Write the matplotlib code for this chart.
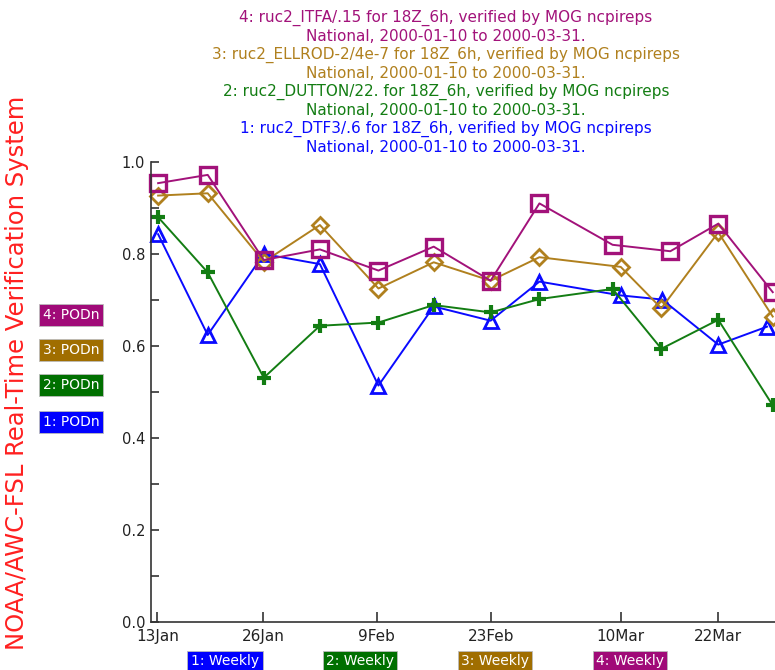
import matplotlib
matplotlib.use("Agg")
import matplotlib.pyplot as plt

# ---- data (x = days after 13 Jan 2000) ----
x_common = [0.1, 6.2, 13.1, 20.0, 27.2, 34.0, 41.0, 47.0]
x_itfa = x_common + [56.0, 63.1, 69.0, 75.7]
x_ellrod = x_common + [57.0, 62.0, 69.0, 75.7]
x_dutton = x_common + [56.0, 62.0, 69.0, 75.7]
x_dtf3 = x_common + [57.0, 62.1, 69.0, 75.0]

itfa = [0.954, 0.972, 0.787, 0.810, 0.764, 0.816, 0.742, 0.910, 0.820, 0.806, 0.866, 0.717]
ellrod = [0.927, 0.932, 0.783, 0.863, 0.725, 0.782, 0.742, 0.793, 0.772, 0.682, 0.847, 0.664]
dutton = [0.880, 0.760, 0.531, 0.644, 0.651, 0.689, 0.673, 0.702, 0.724, 0.594, 0.657, 0.471]
dtf3 = [0.843, 0.624, 0.800, 0.778, 0.514, 0.686, 0.655, 0.740, 0.710, 0.701, 0.603, 0.642]

xtick_pos = [0, 13, 27, 41, 57, 69]
xtick_labels = ["13Jan", "26Jan", "9Feb", "23Feb", "10Mar", "22Mar"]
ytick_major = [0.0, 0.2, 0.4, 0.6, 0.8, 1.0]
ytick_minor = [0.1, 0.3, 0.5, 0.7, 0.9]

titles = [
    ("4: ruc2_ITFA/.15 for 18Z_6h, verified by MOG ncpireps", "National, 2000-01-10 to 2000-03-31."),
    ("3: ruc2_ELLROD-2/4e-7 for 18Z_6h, verified by MOG ncpireps", "National, 2000-01-10 to 2000-03-31."),
    ("2: ruc2_DUTTON/22. for 18Z_6h, verified by MOG ncpireps", "National, 2000-01-10 to 2000-03-31."),
    ("1: ruc2_DTF3/.6 for 18Z_6h, verified by MOG ncpireps", "National, 2000-01-10 to 2000-03-31."),
]
pod_labels = ["4: PODn", "3: PODn", "2: PODn", "1: PODn"]
weekly_labels = ["1: Weekly", "2: Weekly", "3: Weekly", "4: Weekly"]

# ---- styles ----
C_PUR = "#A2127A"
C_GLD = "#B0801E"
C_GRN = "#137D13"
C_BLU = "#0A0AFF"
BOX = {"4": "#A00A78", "3": "#A06E00", "2": "#007000", "1": "#0000FF"}

W, H = 775, 670
fig = plt.figure(figsize=(W / 100, H / 100), dpi=100)
ax_left, ax_bottom, ax_right, ax_top = 150.7, 622, 775, 162
ax = fig.add_axes([ax_left / W, 1 - ax_bottom / H, (ax_right - ax_left) / W, (ax_bottom - ax_top) / H])
px_per_day = 8.13
x0 = 157.3
ax.set_xlim((ax_left - x0) / px_per_day, (ax_right - x0) / px_per_day)
ax.set_ylim(0, 1.0)

lw = 1.4
ax.plot(x_dtf3, dtf3, color=C_BLU, lw=lw, marker="^", ms=10, mfc="none", mew=2, clip_on=False)
ax.plot(x_dutton, dutton, color=C_GRN, lw=lw, clip_on=False)
ax.plot(x_dutton, dutton, ls="none", color=C_GRN, marker="+", ms=10, mew=3, clip_on=False)
ax.plot(x_ellrod, ellrod, color=C_GLD, lw=lw, marker="D", ms=8, mfc="none", mew=2, clip_on=False)
ax.plot(x_itfa, itfa, color=C_PUR, lw=lw, marker="s", ms=12, mfc="none", mew=2.4, clip_on=False)

for s in ["top", "right"]:
    ax.spines[s].set_visible(False)
for s in ["left", "bottom"]:
    ax.spines[s].set_color("#333333")
    ax.spines[s].set_linewidth(1.2)

ax.set_xticks(xtick_pos)
ax.set_xticklabels(xtick_labels, fontsize=11, color="#222222")
ax.set_yticks(ytick_major)
ax.set_yticklabels([f"{v:.1f}" for v in ytick_major], fontsize=10.5, color="#222222")
ax.set_yticks(ytick_minor, minor=True)
ax.tick_params(axis="y", which="both", direction="in", length=6, width=1.2, color="#333333", pad=4)
ax.tick_params(axis="x", which="major", direction="in", length=7, width=1.2, color="#333333", pad=5)

# titles
colors_t = [C_PUR, C_GLD, C_GRN, C_BLU]
y = 18
for (l1, l2), c in zip(titles, colors_t):
    fig.text(446 / W, 1 - y / H, l1, ha="center", va="center", fontsize=11, color=c)
    fig.text(446 / W, 1 - (y + 18.5) / H, l2, ha="center", va="center", fontsize=11, color=c)
    y += 37

# side title
fig.text(17 / W, 1 - 373 / H, "NOAA/AWC-FSL Real-Time Verification System", rotation=90,
         ha="center", va="center", fontsize=17.5, color="#FF2020")

# PODn boxes
pod_y = [315, 350, 385, 422]
for lab, yy in zip(pod_labels, pod_y):
    fig.text(71 / W, 1 - yy / H, lab, ha="center", va="center", fontsize=10, color="white",
             bbox=dict(boxstyle="square,pad=0.3", fc=BOX[lab[0]], ec="#BBBBBB", lw=0.6))

# Weekly boxes
wk_x = [225, 360, 495, 630]
for lab, xx in zip(weekly_labels, wk_x):
    fig.text(xx / W, 1 - 661 / H, lab, ha="center", va="center", fontsize=10, color="white",
             bbox=dict(boxstyle="square,pad=0.25", fc=BOX[lab[0]], ec="#BBBBBB", lw=0.6))

fig.savefig("out.png", dpi=100)
